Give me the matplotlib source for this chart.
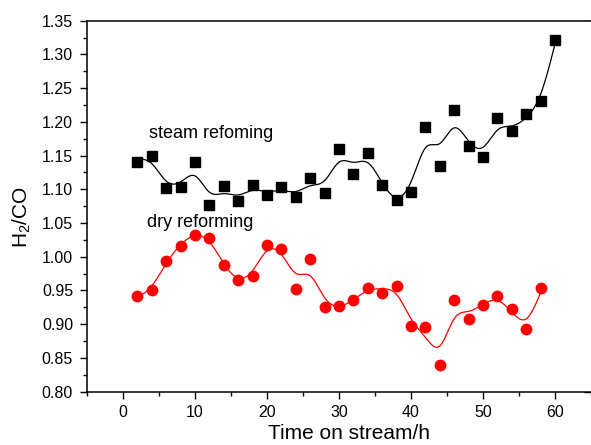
import numpy as np
import matplotlib
matplotlib.use('Agg')
import matplotlib.pyplot as plt
from matplotlib.ticker import MultipleLocator

plt.rcParams['font.family'] = ['Liberation Sans', 'DejaVu Sans']
plt.rcParams['mathtext.fontset'] = 'custom'
plt.rcParams['mathtext.rm'] = 'Liberation Sans'
plt.rcParams['mathtext.it'] = 'Liberation Sans'

# 数据
steam_t = [2, 4, 6, 8, 10, 12, 14, 16, 18, 20, 22, 24, 26, 28, 30,
           32, 34, 36, 38, 40, 42, 44, 46, 48, 50, 52, 54, 56, 58, 60]
steam_r = [1.141, 1.150, 1.102, 1.104, 1.141, 1.076, 1.105, 1.083, 1.106, 1.091,
           1.104, 1.089, 1.116, 1.095, 1.160, 1.123, 1.154, 1.107, 1.084, 1.096,
           1.193, 1.135, 1.218, 1.164, 1.148, 1.205, 1.187, 1.211, 1.231, 1.321]
dry_t = [2, 4, 6, 8, 10, 12, 14, 16, 18, 20, 22, 24, 26, 28, 30,
         32, 34, 36, 38, 40, 42, 44, 46, 48, 50, 52, 54, 56, 58]
dry_r = [0.942, 0.950, 0.994, 1.016, 1.032, 1.027, 0.988, 0.965, 0.972, 1.018,
         1.012, 0.952, 0.996, 0.926, 0.927, 0.936, 0.953, 0.946, 0.956, 0.897,
         0.895, 0.839, 0.935, 0.907, 0.929, 0.941, 0.922, 0.893, 0.954]


# 平滑曲线（离散平滑样条）
def smooth_curve(x, y, lam=0.8, h=0.05):
    x = np.asarray(x, float)
    y = np.asarray(y, float)
    grid = np.arange(x[0], x[-1] + h / 2, h)
    n = len(grid)
    idx = np.round((x - x[0]) / h).astype(int)
    A = np.zeros((len(x), n))
    A[np.arange(len(x)), idx] = 1.0
    D = np.diff(np.eye(n), 2, axis=0)
    M = A.T @ A + lam / h**3 * (D.T @ D)
    f = np.linalg.solve(M, A.T @ y)
    return grid, f


fig = plt.figure(figsize=(5.91, 4.45), dpi=100)
ax = fig.add_axes([0.1472, 0.1202, 0.8528, 0.8333])

gx, gy = smooth_curve(steam_t, steam_r)
ax.plot(gx, gy, color='black', lw=0.9)
ax.plot(steam_t, steam_r, 's', color='black', ms=6.5, ls='none')

gx, gy = smooth_curve(dry_t, dry_r)
ax.plot(gx, gy, color='red', lw=0.9)
ax.plot(dry_t, dry_r, 'o', color='red', ms=7.5, ls='none')

ax.text(3.6, 1.182, 'steam refoming', fontsize=13, ha='left', va='center')
ax.text(3.4, 1.050, 'dry reforming', fontsize=13, ha='left', va='center')

ax.set_xlim(-5, 65)
ax.set_ylim(0.80, 1.35)
ax.xaxis.set_major_locator(MultipleLocator(10))
ax.xaxis.set_minor_locator(MultipleLocator(5))
ax.yaxis.set_major_locator(MultipleLocator(0.05))
ax.yaxis.set_minor_locator(MultipleLocator(0.025))
ax.yaxis.set_major_formatter(plt.FormatStrFormatter('%.2f'))
ax.tick_params(which='both', direction='out', width=1.0, labelsize=11.5, pad=5)
ax.tick_params(which='major', length=5)
ax.tick_params(which='minor', length=3)
ax.spines['right'].set_visible(False)
for s in ['left', 'bottom', 'top']:
    ax.spines[s].set_linewidth(1.1)

ax.set_xlabel('Time on stream/h', fontsize=15)
ax.xaxis.set_label_coords(0.52, -0.088)
ax.set_ylabel('H$_2$/CO', fontsize=15)
ax.yaxis.set_label_coords(-0.108, 0.47)

# 上、右侧刻度
ax2 = fig.add_axes(ax.get_position(), frameon=False)
ax2.set_xlim(0, 1)
ax2.set_ylim(0, 1)
ax2.xaxis.set_major_locator(MultipleLocator(0.2))
ax2.xaxis.set_minor_locator(MultipleLocator(0.1))
ax2.yaxis.set_major_locator(MultipleLocator(0.2))
ax2.yaxis.set_minor_locator(MultipleLocator(0.1))
ax2.tick_params(which='both', direction='in', width=1.0,
                top=True, bottom=False, left=False, right=True,
                labeltop=False, labelbottom=False, labelleft=False, labelright=False)
ax2.tick_params(which='major', length=5)
ax2.tick_params(which='minor', length=3)
ax2.set_zorder(-1)

fig.savefig('out.png', dpi=100)
